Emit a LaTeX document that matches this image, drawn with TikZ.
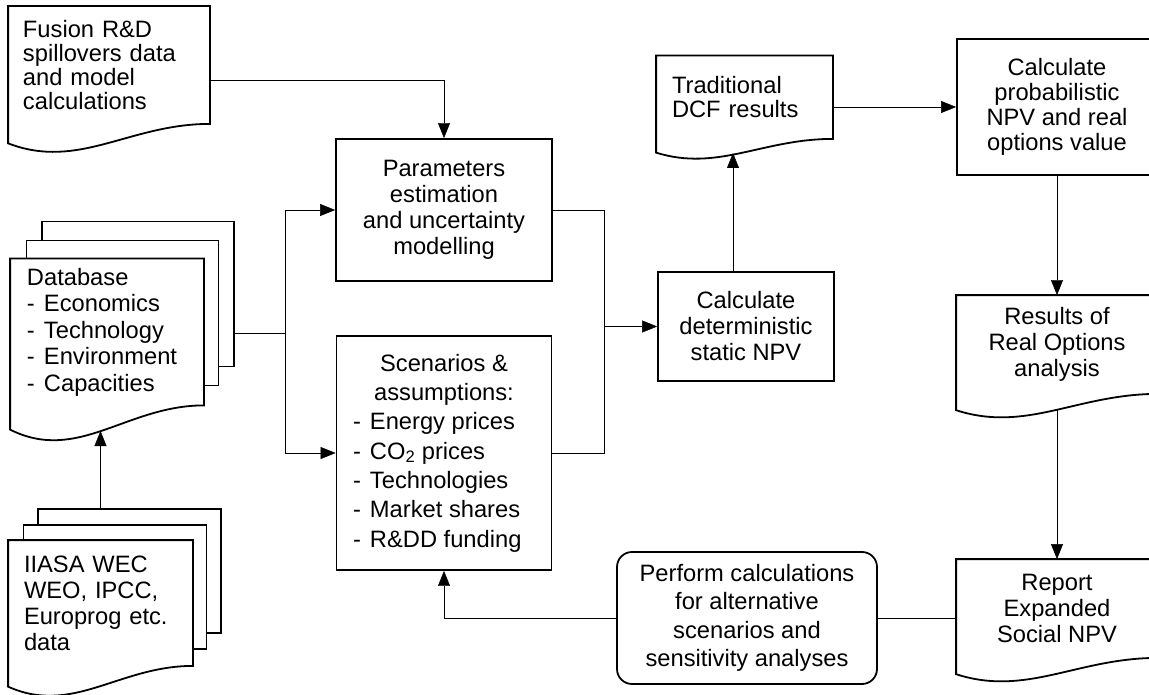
\documentclass[tikz,border=0pt]{standalone}
\usepackage{fontspec}
\setmainfont{Liberation Sans}
\usepackage{tikz}
\usetikzlibrary{arrows.meta, positioning, calc}
\pgfdeclarelayer{back}
\pgfsetlayers{back,main}

\newcommand{\listdash}{\makebox[17pt][l]{-}}
% outline of a document node, wavy bottom edge
\newcommand{\docshape}[1]{%
  \begin{pgfonlayer}{back}
    \draw[line width=1.8pt, fill=white] let \p1=(#1.south west), \p2=(#1.north east), \n1={0.165*(\y2-\y1)} in
      (\x1,{\y1-\n1}) -- (\x1,\y2) -- (\x2,\y2) -- (\x2,\y1)
      .. controls ({\x1+0.6*(\x2-\x1)},\y1) and ({\x1+0.35*(\x2-\x1)},{\y1-2.4*\n1}) .. (\x1,{\y1-\n1}) -- cycle;
  \end{pgfonlayer}}

\begin{document}
\begin{tikzpicture}[x=1pt, y=-1pt, >={Triangle[length=15pt, width=12pt]}, line width=1.8pt,
    font=\fontsize{23.7}{26}\selectfont,
    box/.style={draw, align=center, inner sep=0pt},
    doc/.style={align=left, inner ysep=0pt},
    sheet/.style={draw, fill=white, line width=1.8pt, inner sep=0pt}]
    \useasboundingbox (0,0) rectangle (1149,695);

    % input documents
    \node[doc, text width=172pt, inner xsep=14pt, minimum height=116pt, font=\fontsize{23.7}{24}\selectfont] (fus) at (109,65)
        {Fusion R\&D\\spillovers data\\and model\\calculations};
    \node[doc, text width=160pt, inner xsep=16pt, minimum height=145pt, font=\fontsize{23.7}{26.5}\selectfont] (db) at (107,332)
        {Database\\\listdash Economics\\\listdash Technology\\\listdash Environment\\\listdash Capacities};
    \node[doc, text width=153pt, inner xsep=15pt, minimum height=124pt] (ii) at (100.5,603)
        {IIASA WEC\\WEO, IPCC,\\Europrog etc.\\data};

    % process boxes
    \node[box, minimum width=216pt, minimum height=142pt] (par) at (444,210)
        {Parameters\\estimation\\and uncertainty\\modelling};
    \node[box, minimum width=215pt, minimum height=234pt, font=\fontsize{23.7}{29.3}\selectfont] (scn) at (444,453)
        {Scenarios \&\\assumptions:\\\makebox[182pt][l]{\listdash Energy prices}\\\makebox[182pt][l]{\listdash CO\textsubscript{2} prices}\\\makebox[182pt][l]{\listdash Technologies}\\\makebox[182pt][l]{\listdash Market shares}\\\makebox[182pt][l]{\listdash R\&DD funding}};
    \node[box, minimum width=176pt, minimum height=109pt] (det) at (746,326.5)
        {Calculate\\deterministic\\static NPV};
    \node[doc, text width=145pt, inner xsep=15pt, minimum height=81.5pt, font=\fontsize{23.7}{24}\selectfont] (dcf) at (744.5,97.25)
        {Traditional\\DCF results};
    \node[box, minimum width=200pt, minimum height=136pt, font=\fontsize{23.7}{25}\selectfont] (prob) at (1057,107)
        {Calculate\\probabilistic\\NPV and real\\options value};
    \node[doc, align=center, minimum width=200pt, minimum height=97pt] (res) at (1057,344.5)
        {Results of\\Real Options\\analysis};
    \node[doc, align=center, minimum width=200pt, minimum height=97pt] (rep) at (1057,608.5)
        {Report\\Expanded\\Social NPV};
    \node[box, rounded corners=15pt, minimum width=260pt, minimum height=132pt, font=\fontsize{23.7}{28.5}\selectfont] (perf) at (747,618)
        {Perform calculations\\for alternative\\scenarios and\\sensitivity analyses};

    % stacked sheets behind the databases
    \begin{pgfonlayer}{back}
        \node[sheet, minimum width=192pt, minimum height=145pt] (db3) at ($(db)+(31,-38)$) {};
        \node[sheet, minimum width=192pt, minimum height=145pt] (db2) at ($(db)+(15.5,-19)$) {};
        \node[sheet, minimum width=183pt, minimum height=124pt] (ii3) at ($(ii)+(29,-32)$) {};
        \node[sheet, minimum width=183pt, minimum height=124pt] (ii2) at ($(ii)+(14.5,-16)$) {};
    \end{pgfonlayer}
    \docshape{fus}
    \docshape{db}
    \docshape{ii}
    \docshape{dcf}
    \docshape{res}
    \docshape{rep}

    \coordinate (jl) at (285,333);
    \coordinate (jr) at (604,326.5);
    \coordinate (dbw) at (100.5,431);
    \coordinate (dcfw) at (733,153);
    \coordinate (resw) at (1057,409);

    % connectors
    \draw[->] ($(fus.east)+(0,15)$) -| (par.north);
    \draw (db3.east |- jl) -- (jl);
    \draw[->] (jl) |- (par.west);
    \draw[->] (jl) |- (scn.west);
    \draw (par.east) -| (jr);
    \draw (scn.east) -| (jr);
    \draw[->] (jr) -- (det.west);
    \draw[->] (det.north -| dcfw) -- (dcfw);
    \draw[->] (dcf.east |- prob.west) -- (prob.west);
    \draw[->] (prob.south) -- (res.north);
    \draw[->] (resw) -- (rep.north);
    \draw (rep.west |- perf.east) -- (perf.east);
    \draw[->] (perf.west) -| (scn.south);
    \draw[->] (ii3.north -| ii.north) -- (dbw);
\end{tikzpicture}
\end{document}
